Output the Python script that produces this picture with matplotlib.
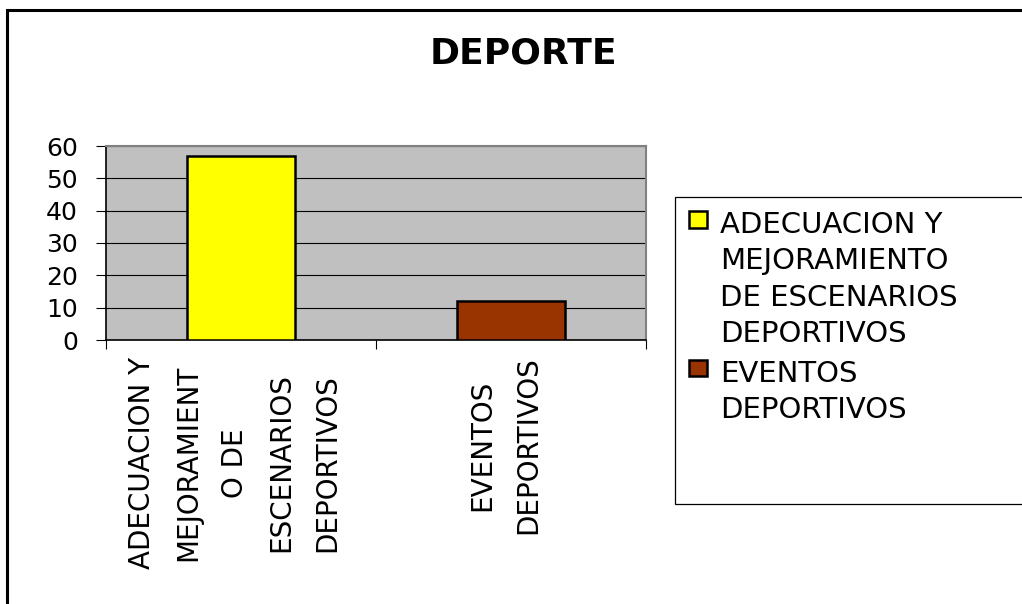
import matplotlib
matplotlib.use("Agg")
import matplotlib.pyplot as plt
from matplotlib.patches import Rectangle
from matplotlib.transforms import ScaledTranslation

# data
categories = ["ADECUACION Y\nMEJORAMIENT\nO DE\nESCENARIOS\nDEPORTIVOS",
              "EVENTOS\nDEPORTIVOS"]
series_names = ["ADECUACION Y\nMEJORAMIENTO\nDE ESCENARIOS\nDEPORTIVOS",
                "EVENTOS\nDEPORTIVOS"]
values = [57, 12]
colors = ["#FFFF00", "#993300"]
yticks = [0, 10, 20, 30, 40, 50, 60]

W, H = 1022, 604
fig = plt.figure(figsize=(W / 100, H / 100), dpi=100)
fig.patch.set_facecolor("white")

def fx(px):
    return px / W

def fy(py):
    return 1 - py / H

ax = fig.add_axes([fx(106), fy(340), fx(646) - fx(106), fy(146) - fy(340)])
ax.set_facecolor("#C0C0C0")

x = list(range(len(values)))
for i, (v, c, name) in enumerate(zip(values, colors, series_names)):
    ax.bar(x[i], v, width=0.4, color=c, edgecolor="black", linewidth=1.8,
           label=name, zorder=3)

ax.set_xlim(-0.5, len(values) - 0.5)
ax.set_ylim(0, 60)
ax.set_yticks(yticks)
ax.set_yticklabels([str(t) for t in yticks], fontsize=18)
ax.yaxis.grid(True, color="black", linewidth=0.8, zorder=1)
ax.set_axisbelow(True)
ax.tick_params(axis="y", direction="out", length=7.2, width=0.8, pad=13, colors="black")

ax.set_xticks(x)
ax.set_xticklabels(categories, rotation=90, fontsize=20, va="top", ha="center",
                   multialignment="center", linespacing=1.83)
ax.tick_params(axis="x", which="major", length=0, pad=12)
# category labels sit a little left of the category centre
shift = ScaledTranslation(-0.06, 0, fig.dpi_scale_trans)
for lbl in ax.get_xticklabels():
    lbl.set_transform(lbl.get_transform() + shift)
ax.set_xticks([-0.5, 0.5, 1.5], minor=True)
ax.tick_params(axis="x", which="minor", direction="out", length=6.5, width=0.8, colors="black")

for s in ["left", "bottom"]:
    ax.spines[s].set_color("black")
    ax.spines[s].set_linewidth(1.2)
for s in ["top", "right"]:
    ax.spines[s].set_color("#808080")
    ax.spines[s].set_linewidth(1.5)

# title
fig.text(fx(523), fy(63), "DEPORTE", fontsize=26, fontweight="bold",
         ha="center", va="baseline")

# legend frame and legend
fig.add_artist(Rectangle((fx(675), fy(504)), 0.5, fy(197) - fy(504),
                         transform=fig.transFigure, facecolor="white",
                         edgecolor="black", linewidth=0.9, clip_on=False, zorder=0))
leg = fig.legend(loc="upper left", bbox_to_anchor=(fx(689), fy(211)),
                 frameon=False, fontsize=21, handlelength=0.6, handleheight=0.5,
                 handletextpad=0.45, labelspacing=0.4, borderpad=0, borderaxespad=0)
for t in leg.get_texts():
    t.set_linespacing(1.38)
for hp in leg._legend_handle_box.get_children():
    for row in hp.get_children():
        row.align = "top"

# outer chart border (cut off at right and bottom)
fig.add_artist(Rectangle((fx(7), -0.1), 1.2, fy(10) + 0.1,
                         transform=fig.transFigure, facecolor="none",
                         edgecolor="black", linewidth=2.2, clip_on=False))

fig.savefig("out.png", dpi=100, facecolor="white")
